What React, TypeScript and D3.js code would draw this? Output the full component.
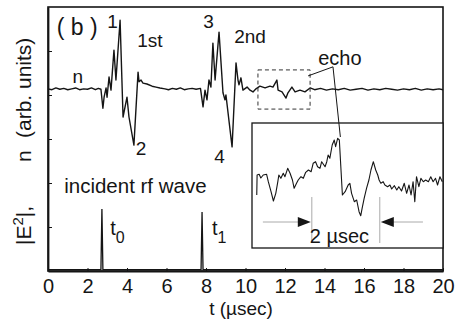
import React, { useRef, useEffect } from 'react';
import * as d3 from 'd3';

// main trace n(t): [t (µsec), value]
const nSignal: [number, number][] = [
  [0, 4.14], [0.2, 4.12], [0.4, 4.16], [0.6, 4.13], [0.8, 4.15], [1.0, 4.12], [1.2, 4.14],
  [1.4, 4.16], [1.6, 4.12], [1.8, 4.14], [2.0, 4.13], [2.2, 4.16], [2.4, 4.12], [2.55, 4.15],
  [2.68, 4.13], [2.78, 3.7], [2.84, 3.95], [2.94, 4.16], [2.99, 3.95], [3.09, 4.41], [3.19, 4.11],
  [3.34, 5.02], [3.44, 4.34], [3.65, 5.7], [3.8, 3.5], [4.0, 3.95], [4.1, 3.5], [4.35, 2.86],
  [4.56, 4.52], [4.61, 4.3], [4.71, 4.34], [4.81, 4.27], [5.01, 4.25], [5.27, 4.2], [5.47, 4.18],
  [5.67, 4.16], [5.92, 4.14], [6.1, 4.12], [6.3, 4.15], [6.5, 4.13], [6.7, 4.16], [6.9, 4.12],
  [7.1, 4.14], [7.3, 4.15], [7.5, 4.13], [7.72, 4.15], [7.85, 3.73], [7.95, 4.11], [8.05, 3.89],
  [8.15, 4.34], [8.25, 4.18], [8.35, 5.18], [8.46, 4.34], [8.66, 5.43], [8.86, 4.05], [8.96, 3.89],
  [9.01, 4.0], [9.32, 2.82], [9.52, 4.73], [9.62, 4.34], [9.67, 4.23], [9.77, 4.39], [9.87, 4.11],
  [10.08, 4.18], [10.23, 4.11], [10.38, 4.07], [10.53, 4.14], [10.73, 4.2], [10.99, 4.16],
  [11.24, 4.2], [11.39, 4.18], [11.59, 4.34], [11.65, 4.11], [11.85, 4.07], [12.05, 3.93],
  [12.15, 4.05], [12.35, 4.18], [12.51, 4.07], [12.76, 4.11], [13.01, 4.07], [13.27, 4.16],
  [13.5, 4.12], [13.8, 4.15], [14.1, 4.11], [14.4, 4.14], [14.7, 4.12], [15.0, 4.15], [15.3, 4.11],
  [15.6, 4.13], [15.9, 4.15], [16.2, 4.11], [16.5, 4.14], [16.8, 4.12], [17.1, 4.15], [17.4, 4.13],
  [17.7, 4.11], [18.0, 4.14], [18.3, 4.12], [18.6, 4.15], [18.9, 4.11], [19.2, 4.14], [19.5, 4.12],
  [19.8, 4.14], [20, 4.12],
];

// incident rf wave |E^2|
const eSignal: [number, number][] = [
  [0, 0.03], [2.68, 0.03], [2.73, 1.41], [2.78, 0.03], [7.75, 0.03], [7.8, 1.34], [7.85, 0.03], [20, 0.03],
];

// inset: magnified echo, [t (µsec) from inset left, value]
const echoSignal: [number, number][] = [
  [0.14, -1.8], [0.15, 0.2], [0.21, 0.27], [0.26, -0.1], [0.33, 0.2], [0.43, 0.27], [0.48, -0.47],
  [0.56, -1.47], [0.63, -2.4], [0.7, -1.63], [0.76, -0.47], [0.79, 0.2], [0.85, -0.13], [0.92, 0.37],
  [0.97, 0.03], [1.05, 0.87], [1.12, 0.37], [1.19, -0.3], [1.24, -1.13], [1.31, -0.63], [1.36, -0.3],
  [1.44, 0.03], [1.51, -0.13], [1.58, 0.47], [1.66, 0.7], [1.74, 0.53], [1.8, 1.37], [1.87, 1.53],
  [1.93, 1.03], [2.0, 0.87], [2.05, 1.53], [2.15, 1.03], [2.2, 1.53], [2.24, 2.2], [2.29, 1.87],
  [2.36, 3.2], [2.42, 3.7], [2.46, 3.03], [2.52, 3.87], [2.57, 3.7], [2.66, -1.8], [2.74, -1.47],
  [2.83, -0.8], [2.88, -0.63], [2.93, -1.63], [3.01, -2.47], [3.08, -2.3], [3.15, -3.47], [3.2, -3.87],
  [3.24, -3.13], [3.3, -2.13], [3.37, -1.13], [3.44, -0.3], [3.5, 0.7], [3.57, 1.53], [3.64, 0.7],
  [3.7, 0.2], [3.74, -0.3], [3.79, -0.63], [3.86, -0.47], [3.91, -0.8], [3.99, -0.97], [4.06, -0.8],
  [4.11, -1.2], [4.19, -0.87], [4.26, -1.3], [4.32, -0.97], [4.4, -1.4], [4.48, -0.63], [4.55, -1.63],
  [4.62, -0.8], [4.68, -1.8], [4.74, -0.47], [4.79, -2.47], [4.84, 0.03], [4.91, -0.97], [4.97, -0.13],
  [5.04, -0.47], [5.11, -0.3], [5.19, -0.47], [5.26, 0.03], [5.33, -0.47], [5.4, -0.13], [5.46, -0.8],
  [5.53, 0.03], [5.6, -0.47],
];

const xTicks = [0, 2, 4, 6, 8, 10, 12, 14, 16, 18, 20];
const yTicks = [1, 2, 3, 4, 5];

// text labels in data coords
const labels = [
  { text: '( b )', t: 0.44, v: 5.36, size: 23 },
  { text: '1', t: 3.0, v: 5.52, size: 19 },
  { text: '2', t: 4.44, v: 2.64, size: 19 },
  { text: '3', t: 7.86, v: 5.52, size: 19 },
  { text: '4', t: 8.42, v: 2.45, size: 19 },
  { text: '1st', t: 4.52, v: 5.09, size: 19 },
  { text: '2nd', t: 9.43, v: 5.18, size: 19 },
  { text: 'n', t: 1.24, v: 4.27, size: 19 },
  { text: 'echo', t: 13.68, v: 4.68, size: 20 },
  { text: 'incident rf wave', t: 0.82, v: 1.77, size: 20.5 },
];

const tLabels = [
  { sub: '0', t: 3.15, v: 0.82 },
  { sub: '1', t: 8.3, v: 0.82 },
];

const echoBox = { t0: 10.63, t1: 13.27, v0: 3.68, v1: 4.57 };
const scaleBar = [1.76, 3.76];

const W = 457;
const H = 326;
const FONT = "'Liberation Sans', Arial, Helvetica, sans-serif";
const INK = '#151515';

const App: React.FC = () => {
  const svgRef = useRef<SVGSVGElement>(null);

  useEffect(() => {
    if (!svgRef.current) return;
    const svg = d3.select(svgRef.current);
    svg.selectAll('*').remove();

    const left = 48, right = 443, top = 7, bottom = 271;

    const x = d3.scaleLinear().domain([0, 20]).range([left, right]);
    const y = d3.scaleLinear().domain([0, 6]).range([bottom, top]);

    const line = d3.line<[number, number]>()
      .x(d => x(d[0]))
      .y(d => y(d[1]));

    // frame
    svg.append('rect')
      .attr('x', left).attr('y', top)
      .attr('width', right - left).attr('height', bottom - top)
      .attr('fill', 'none').attr('stroke', INK).attr('stroke-width', 1.6);

    // axes
    const xAxis = svg.append('g')
      .attr('transform', `translate(0,${bottom})`)
      .call(d3.axisBottom(x).tickValues(xTicks).tickSizeInner(-3).tickSizeOuter(0).tickPadding(8));
    xAxis.select('.domain').attr('stroke', INK).attr('stroke-width', 2.2);
    xAxis.selectAll('line').attr('stroke', INK);
    xAxis.selectAll('text')
      .attr('font-family', FONT).attr('font-size', '20px').attr('fill', INK);

    const yAxis = svg.append('g')
      .attr('transform', `translate(${left},0)`)
      .call(d3.axisLeft(y).tickValues(yTicks).tickSizeInner(-4).tickSizeOuter(0).tickFormat(() => ''));
    yAxis.select('.domain').attr('stroke', INK).attr('stroke-width', 1.8);
    yAxis.selectAll('line').attr('stroke', INK);

    // traces
    svg.append('path').datum(nSignal).attr('d', line)
      .attr('fill', 'none').attr('stroke', INK).attr('stroke-width', 1.4).attr('stroke-linejoin', 'round');
    svg.append('path').datum(eSignal).attr('d', line)
      .attr('fill', 'none').attr('stroke', INK).attr('stroke-width', 1.3);

    // dashed echo box
    svg.append('rect')
      .attr('x', x(echoBox.t0)).attr('y', y(echoBox.v1))
      .attr('width', x(echoBox.t1) - x(echoBox.t0)).attr('height', y(echoBox.v0) - y(echoBox.v1))
      .attr('fill', 'none').attr('stroke', '#333').attr('stroke-width', 1)
      .attr('stroke-dasharray', '4,3');

    // labels
    labels.forEach(l => {
      svg.append('text')
        .attr('x', x(l.t)).attr('y', y(l.v))
        .attr('font-family', FONT).attr('font-size', `${l.size}px`).attr('fill', INK)
        .attr('xml:space', 'preserve')
        .text(l.text);
    });

    tLabels.forEach(l => {
      const tx = svg.append('text')
        .attr('x', x(l.t)).attr('y', y(l.v))
        .attr('font-family', FONT).attr('font-size', '20px').attr('fill', INK);
      tx.append('tspan').text('t');
      tx.append('tspan').attr('dy', 8).attr('font-size', '16px').text(l.sub);
    });

    // inset
    const ix = d3.scaleLinear().domain([0, 5.62]).range([252, 443]);
    const iy = d3.scaleLinear().domain([-7.1, 5.4]).range([248, 123]);
    const inset = svg.append('g');
    inset.append('rect')
      .attr('x', ix(0)).attr('y', iy(5.4))
      .attr('width', ix(5.62) - ix(0)).attr('height', iy(-7.1) - iy(5.4))
      .attr('fill', '#fff').attr('stroke', INK).attr('stroke-width', 1.3);

    const iline = d3.line<[number, number]>().x(d => ix(d[0])).y(d => iy(d[1]));
    inset.append('path').datum(echoSignal).attr('d', iline)
      .attr('fill', 'none').attr('stroke', INK).attr('stroke-width', 1.1).attr('stroke-linejoin', 'round');

    // 2 µsec scale bar
    const barY = iy(-4.5);
    scaleBar.forEach(t => {
      inset.append('line')
        .attr('x1', ix(t)).attr('x2', ix(t))
        .attr('y1', iy(-2.0)).attr('y2', iy(-6.6))
        .attr('stroke', '#aaa').attr('stroke-width', 1);
    });
    inset.append('line')
      .attr('x1', ix(0.32)).attr('x2', ix(scaleBar[0]) - 12)
      .attr('y1', barY).attr('y2', barY)
      .attr('stroke', '#aaa').attr('stroke-width', 1);
    inset.append('line')
      .attr('x1', ix(scaleBar[1]) + 12).attr('x2', ix(5.03))
      .attr('y1', barY).attr('y2', barY)
      .attr('stroke', '#aaa').attr('stroke-width', 1);
    const a0 = ix(scaleBar[0]) - 1;
    const a1 = ix(scaleBar[1]) + 1;
    inset.append('path')
      .attr('d', `M${a0},${barY} L${a0 - 13},${barY - 5} L${a0 - 13},${barY + 5} Z`)
      .attr('fill', INK);
    inset.append('path')
      .attr('d', `M${a1},${barY} L${a1 + 13},${barY - 5} L${a1 + 13},${barY + 5} Z`)
      .attr('fill', INK);
    inset.append('text')
      .attr('x', ix(1.7)).attr('y', iy(-6.6))
      .attr('font-family', FONT).attr('font-size', '20px').attr('fill', INK)
      .text('2 µsec');

    // echo pointer lines
    const corner: [number, number] = [x(echoBox.t1) - 2, y(echoBox.v1) + 6];
    const elbow: [number, number] = [x(14.43), y(4.64)];
    const tip: [number, number] = [ix(2.6), iy(4.0)];
    svg.append('path')
      .attr('d', `M${corner[0]},${corner[1]} L${elbow[0]},${elbow[1]} L${tip[0]},${tip[1]}`)
      .attr('fill', 'none').attr('stroke', INK).attr('stroke-width', 1);

    // axis titles
    svg.append('text')
      .attr('x', 241).attr('y', 315)
      .attr('text-anchor', 'middle')
      .attr('font-family', FONT).attr('font-size', '19px').attr('fill', INK)
      .text('t (µsec)');

    const yt = svg.append('g').attr('transform', 'translate(31,0) rotate(-90)');
    const t1 = yt.append('text')
      .attr('x', -245).attr('y', 0)
      .attr('font-family', FONT).attr('font-size', '21px').attr('fill', INK);
    t1.append('tspan').text('|E');
    t1.append('tspan').attr('dy', -8).attr('font-size', '15px').text('2');
    t1.append('tspan').attr('dy', 8).text('|,');
    yt.append('text')
      .attr('x', -162).attr('y', 0)
      .attr('font-family', FONT).attr('font-size', '21px').attr('fill', INK)
      .text('n');
    yt.append('text')
      .attr('x', -138).attr('y', 0)
      .attr('font-family', FONT).attr('font-size', '21px').attr('fill', INK)
      .text('(arb. units)');
  }, []);

  return (
    <svg
      ref={svgRef}
      width={W}
      height={H}
      style={{ position: 'absolute', left: 0, top: 0, background: '#fff' }}
    />
  );
};

export default App;
